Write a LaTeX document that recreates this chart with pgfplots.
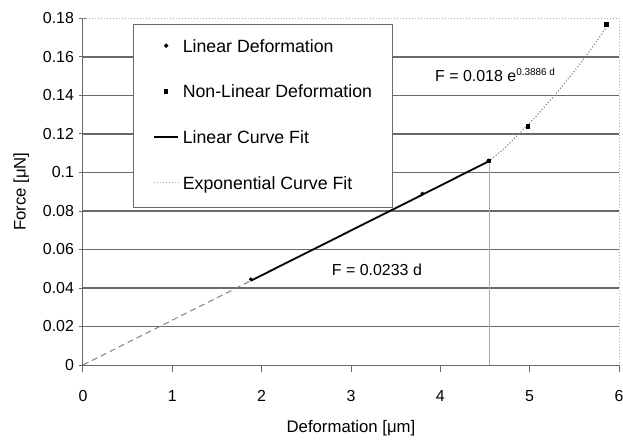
\documentclass[border=0pt]{standalone}
\usepackage{pgfplots}
\pgfplotsset{compat=1.18}
\usepackage{fontspec}
\setmainfont{Liberation Sans}
\definecolor{gridc}{RGB}{105,105,105}
\definecolor{lgray}{RGB}{170,170,170}
\begin{document}
\begin{tikzpicture}
\begin{axis}[
  scale only axis,
  width=536bp, height=346.5bp,
  xmin=0, xmax=6, ymin=0, ymax=0.18,
  axis lines=left,
  axis line style={-, gridc, line width=1bp},
  xtick={0,1,2,3,4,5,6},
  ytick={0,0.02,0.04,0.06,0.08,0.1,0.12,0.14,0.16,0.18},
  scaled ticks=false,
  /pgf/number format/assume math mode=true,
  yticklabel style={/pgf/number format/fixed,/pgf/number format/precision=2, xshift=-2bp},
  ticklabel style={font=\fontsize{16}{18}\selectfont},
  xticklabel style={yshift=-15bp},
  x tick style={gridc, line width=1bp},
  y tick style={gridc, line width=1bp},
  xtick align=outside,
  ytick align=center,
  major tick length=7bp,
  xlabel={Deformation [μm]},
  ylabel={Force [μN]},
  label style={font=\fontsize{16.8}{19}\selectfont},
  xlabel style={yshift=-12bp},
  ylabel style={yshift=7bp},
  clip=false,
  legend cell align=left,
  legend style={at={(0.0933,0.984)}, anchor=north west, draw=gridc, line width=1bp, fill=white,
    font=\fontsize{17.8}{20}\selectfont,
    inner xsep=20bp, inner ysep=14.5bp, row sep=28.7bp, column sep=4bp,
    nodes={inner sep=0pt, text height=13bp, text depth=4bp}},
]
% grid lines
\pgfplotsinvokeforeach{0.02,0.04,0.06,0.08,0.1,0.12,0.14,0.16}{
  \draw[gridc, line width=1.1bp] (axis cs:0,#1) -- (axis cs:6,#1);
}
\draw[lgray, dotted, line width=1bp] (axis cs:0,0.18) -- (axis cs:6,0.18) -- (axis cs:6,0);
% vertical marker line
\addplot[lgray, line width=1bp, forget plot] coordinates {(4.55,0) (4.55,0.1058)};
% dashed extension
\addplot[gray, dashed, dash pattern=on 6bp off 4bp, line width=1bp, forget plot] coordinates {(0,0) (1.88,0.0438)};
% data
\addplot[only marks, mark=*, mark size=1.8bp, black,
  legend image code/.code={\fill[black] (12bp,0.35ex) circle (1.6bp);}]
  coordinates {(1.88,0.0445) (3.8,0.0890) (4.54,0.1062)};
\addlegendentry{Linear Deformation}
\addplot[only marks, mark=square*, mark size=1.8bp, black,
  legend image code/.code={\fill[black] (10.4bp,-1.6bp+0.35ex) rectangle (13.6bp,1.6bp+0.35ex);}]
  coordinates {(4.54,0.1062) (4.98,0.1240) (5.86,0.1770)};
\addlegendentry{Non-Linear Deformation}
\addplot[black, line width=1.8bp,
  legend image code/.code={\draw[black, line width=1.3bp] (0bp,0.35ex) -- (24bp,0.35ex);}]
  coordinates {(1.88,0.0438) (3.8,0.0885) (4.54,0.1058)};
\addlegendentry{Linear Curve Fit}
\addplot[gray, dotted, line width=1.1bp,
  legend image code/.code={\draw[lgray, dotted, line width=1bp] (0bp,0.35ex) -- (24bp,0.35ex);}]
  coordinates {(4.54,0.1058) (4.7,0.1118) (4.9,0.1209) (5.1,0.1306) (5.3,0.1412) (5.5,0.1526) (5.7,0.1649) (5.86,0.1755)};
\addlegendentry{Exponential Curve Fit}
\node[anchor=center, font=\fontsize{16}{18}\selectfont] at (axis cs:3.29,0.0494) {F = 0.0233 d};
\node[anchor=west, font=\fontsize{16}{18}\selectfont, inner sep=0pt] at (axis cs:3.94,0.1506) {F = 0.018 e\textsuperscript{\fontsize{10}{12}\selectfont 0.3886 d}};
\end{axis}
\pgfresetboundingbox
\path[use as bounding box] ([shift={(-83bp,-79bp)}]current axis.south west) rectangle ([shift={(4bp,18.5bp)}]current axis.north east);
\end{tikzpicture}
\end{document}
